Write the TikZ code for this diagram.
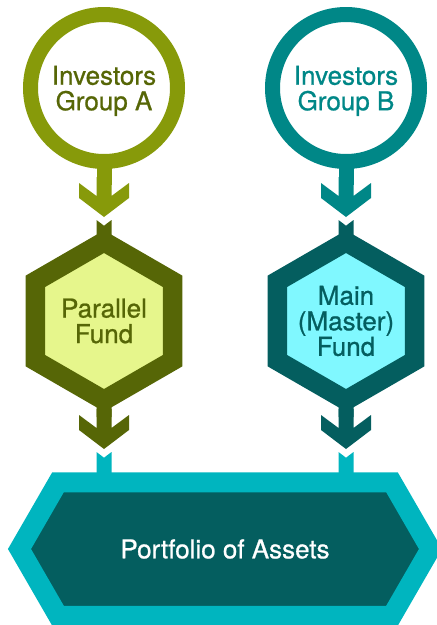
\documentclass[tikz,border=0pt]{standalone}
\usepackage{fontspec}
\setmainfont{TeX Gyre Heros}[FakeBold=0.8]
\usepackage{tikz}
\usetikzlibrary{shapes,calc,positioning}

\definecolor{oliveA}{HTML}{879A0A}
\definecolor{oliveD}{HTML}{566606}
\definecolor{limeF}{HTML}{E6F68C}
\definecolor{tealA}{HTML}{008787}
\definecolor{tealD}{HTML}{045E5F}
\definecolor{cyanF}{HTML}{80F8FF}
\definecolor{cyanB}{HTML}{00B5BF}

\tikzset{
  investor/.style 2 args={circle, draw=#1, line width=15pt, minimum size=147pt, inner sep=0pt, text=#2, text depth=0pt, align=center},
  fund/.style 2 args={regular polygon, regular polygon sides=6, shape border rotate=90, draw=#1, fill=#2, text=#1, line width=19.6pt, minimum size=158.6pt, inner sep=0pt, align=center},
  pics/chevron/.style={code={\fill[#1] (0,0) -- (25,19) -- (25,34) -- (7.5,21) -- (7.5,40) -- (-7.5,40) -- (-7.5,21) -- (-25,34) -- (-25,19) -- cycle;}},
  pics/stub/.style={code={\fill[#1] (-7.5,0) -- (0,-5.7) -- (7.5,0) -- (7.5,-22) -- (-7.5,-22) -- cycle;}},
}

\begin{document}
\begin{tikzpicture}[x=1pt, y=1pt, every node/.style={font=\fontsize{26pt}{25.5pt}\selectfont}]
    \useasboundingbox (0,0) rectangle (437,-625);
    \node[investor={oliveA}{oliveD}] (invA) at (104,-88) {Investors\\Group A};
    \node[investor={tealA}{tealA}] (invB) at (346,-88) {Investors\\Group B};
    \node[fund={oliveD}{limeF}] (parA) at (104,-321) {Parallel\\Fund};
    \node[fund={tealD}{cyanF}] (mainB) at (346,-321) {Main\\(Master)\\Fund};
    \node[signal, signal to=west and east, signal pointer angle=120, draw=cyanB, fill=tealD, line width=20pt, minimum width=411pt, minimum height=133.5pt, text=white] (port) at (225,-549) {Portfolio of Assets};

    % notched inlets where the arrows plug in
    \coordinate (inA) at ($(parA.center)+(0,101)$);
    \coordinate (inB) at ($(mainB.center)+(0,101)$);
    \coordinate (outA) at ($(parA.center)+(0,-131)$);
    \coordinate (outB) at ($(mainB.center)+(0,-131)$);
    \foreach \dst/\col in {inA/oliveD, inB/tealD, outA/cyanB, outB/cyanB}
        \path (\dst) pic {stub=\col};

    \foreach \src/\dst/\col in {invA/inA/oliveA, invB/inB/tealA, parA/outA/oliveD, mainB/outB/tealD}{
        \draw[line width=15pt, \col, shorten <=-8pt] (\src) -- ($(\dst)+(0,35)$);
        \path ($(\dst)+(0,3)$) pic {chevron=\col};
    }
\end{tikzpicture}
\end{document}
